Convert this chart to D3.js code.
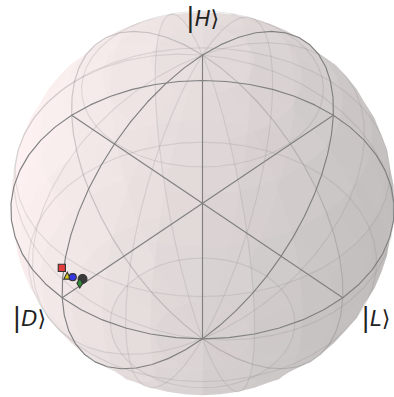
<!DOCTYPE html>
<html>
<head>
<meta charset="utf-8">
<script src="https://cdn.jsdelivr.net/npm/d3@7"></script>
<style>
  html, body { margin: 0; padding: 0; background: #ffffff; }
  svg { display: block; }
</style>
</head>
<body>
<svg id="chart" width="394" height="397"></svg>
<script>
// ---- State markers, Bloch coordinates (x, y, z) ----
const stateX = [0.972, 0.982, 0.986, 0.982, 0.980];
const stateY = [0.128, -0.013, 0.030, 0.066, 0.115];
const stateZ = [0.199, 0.187, 0.165, 0.176, 0.166];
const stateMarkers = ["circle", "square", "triangle", "circle", "diamond"];
const stateColors = ["#3a3a3a", "#e23c3c", "#dccb1a", "#3636e2", "#2f8f38"];

// ---- Axis labels: ket text and the Bloch axis they sit on ----
const labelKets = ["H", "D", "L"];
const labelAxes = ["z", "x", "y"];

// ---- Camera ----
const view = { azim: -45, elev: 42.3, dist: 15 };
const center = [202.5, 203.3];
const R0 = 191.5;          // pixels per unit at the sphere centre depth
const LABEL_R = 1.225;

const svg = d3.select("#chart");

const toRad = Math.PI / 180;
const phi = view.azim * toRad, th = view.elev * toRad;
const E = [Math.cos(th) * Math.cos(phi), Math.cos(th) * Math.sin(phi), Math.sin(th)];
const U = [-Math.sin(phi), Math.cos(phi), 0];
const V = [-Math.sin(th) * Math.cos(phi), -Math.sin(th) * Math.sin(phi), Math.cos(th)];
const dot = (a, b) => a[0] * b[0] + a[1] * b[1] + a[2] * b[2];

const sx = d3.scaleLinear().domain([-1, 1]).range([center[0] - R0, center[0] + R0]);
const sy = d3.scaleLinear().domain([-1, 1]).range([center[1] + R0, center[1] - R0]);

// plot-space point -> [px, py, depth]
function project(p) {
  const depth = dot(p, E);
  const f = view.dist / (view.dist - depth);
  return [sx(f * dot(p, U)), sy(f * dot(p, V)), depth];
}
// Bloch vector -> plot space (Bloch x runs along -y, Bloch y along +x)
const blochToPlot = (bx, by, bz) => [by, -bx, bz];

const sph = (u, v) => [Math.cos(u) * Math.sin(v), Math.sin(u) * Math.sin(v), Math.cos(v)];
const lin = (a, b, n) => d3.range(n).map(i => a + (b - a) * i / (n - 1));

const halves = [[0, Math.PI], [-Math.PI, 0]];
const vGrid = lin(0, Math.PI, 25);

// ---- Shaded translucent sphere surface ----
const base = [255, 221, 221];
const light = (() => {
  const az = (90 - 225) * toRad, alt = 19.4712 * toRad;
  return [Math.cos(az) * Math.cos(alt), Math.sin(az) * Math.cos(alt), Math.sin(alt)];
})();

const polys = [];
halves.forEach(([u0, u1]) => {
  const uGrid = lin(u0, u1, 25);
  for (let i = 0; i < 24; i += 2) {
    for (let j = 0; j < 24; j += 2) {
      const per = [
        [i, j], [i, j + 1], [i, j + 2], [i + 1, j + 2],
        [i + 2, j + 2], [i + 2, j + 1], [i + 2, j], [i + 1, j]
      ].map(([a, b]) => sph(uGrid[a], vGrid[b]));
      const c = sph(uGrid[i + 1], vGrid[j + 1]);
      const shade = 0.3 + 0.7 * (dot(c, light) + 1) / 2;
      const pts = per.map(project);
      polys.push({
        pts,
        depth: d3.mean(pts, d => d[2]),
        fill: d3.rgb(base[0] * shade, base[1] * shade, base[2] * shade).formatHex()
      });
    }
  }
});
polys.sort((a, b) => a.depth - b.depth);

const line2d = d3.line().x(d => d[0]).y(d => d[1]);

svg.append("g").attr("class", "surface")
  .selectAll("path").data(polys).join("path")
  .attr("d", d => line2d(d.pts) + "Z")
  .attr("fill", d => d.fill)
  .attr("fill-opacity", 0.2)
  .attr("stroke", "none");

// ---- Wireframe (faint) ----
const wire = [];
const pick = [0, 5, 10, 15, 20, 24];
halves.forEach(([u0, u1]) => {
  const uGrid = lin(u0, u1, 25);
  pick.forEach(i => wire.push(vGrid.map(v => sph(uGrid[i], v))));
  pick.forEach(j => {
    if (j === 0 || j === 24) return;
    wire.push(uGrid.map(u => sph(u, vGrid[j])));
  });
});
svg.append("g").attr("class", "wireframe")
  .selectAll("path").data(wire).join("path")
  .attr("d", d => line2d(d.map(project)))
  .attr("fill", "none")
  .attr("stroke", "#808080")
  .attr("stroke-opacity", 0.2)
  .attr("stroke-width", 1.15);

// ---- Frame: equator, vertical great circle and the three axes ----
const frame = [];
halves.forEach(([u0, u1]) => {
  const uGrid = lin(u0, u1, 25);
  frame.push(uGrid.map(u => [Math.cos(u), Math.sin(u), 0]));
  frame.push(uGrid.map(u => [0, Math.cos(u), Math.sin(u)]));
});
frame.push([[-1, 0, 0], [1, 0, 0]]);
frame.push([[0, -1, 0], [0, 1, 0]]);
frame.push([[0, 0, -1], [0, 0, 1]]);
svg.append("g").attr("class", "frame")
  .selectAll("path").data(frame).join("path")
  .attr("d", d => line2d(d.map(project)))
  .attr("fill", "none")
  .attr("stroke", "#808080")
  .attr("stroke-width", 1.15)
  .attr("stroke-linejoin", "round");

// ---- Marker shapes ----
const symTriangle = { draw(ctx, size) { const r = Math.sqrt(size) / 2;
  ctx.moveTo(0, -r); ctx.lineTo(r, r); ctx.lineTo(-r, r); ctx.closePath(); } };
const symThinDiamond = { draw(ctx, size) { const r = Math.sqrt(size) / 2;
  ctx.moveTo(0, -r); ctx.lineTo(0.6 * r, 0); ctx.lineTo(0, r); ctx.lineTo(-0.6 * r, 0); ctx.closePath(); } };
const symbolFor = {
  circle: d3.symbolCircle, square: d3.symbolSquare,
  triangle: symTriangle, diamond: symThinDiamond
};
const sizeFor = { circle: 40, square: 52, triangle: 48, diamond: 90 };
const bigCircle = 62;

const states = stateX.map((x, i) => {
  const p = project(blochToPlot(x, stateY[i], stateZ[i]));
  return { p, marker: stateMarkers[i], color: stateColors[i], idx: i };
});
svg.append("g").attr("class", "states")
  .selectAll("path").data(states).join("path")
  .attr("transform", d => `translate(${d.p[0]},${d.p[1]})`)
  .attr("d", d => d3.symbol(symbolFor[d.marker],
      d.idx === 0 ? bigCircle : sizeFor[d.marker])())
  .attr("fill", d => d.color)
  .attr("stroke", "#333333")
  .attr("stroke-width", 1.1);

// ---- Ket labels ----
const axisVec = { x: [1, 0, 0], y: [0, 1, 0], z: [0, 0, 1] };
const labels = labelKets.map((k, i) => {
  const a = axisVec[labelAxes[i]];
  const p = project(blochToPlot(a[0] * LABEL_R, a[1] * LABEL_R, a[2] * LABEL_R));
  return { k, p };
});
const lt = svg.append("g").attr("class", "labels")
  .selectAll("text").data(labels).join("text")
  .attr("x", d => d.p[0])
  .attr("y", d => d.p[1] + 6.5)
  .attr("text-anchor", "middle")
  .attr("font-family", "DejaVu Sans, sans-serif")
  .attr("fill", "#222222");
lt.append("tspan").attr("font-size", 26).text("|");
lt.append("tspan").attr("font-size", 21).attr("font-style", "italic").text(d => d.k);
lt.append("tspan").attr("font-size", 22).text("\u27E9");
</script>
</body>
</html>
